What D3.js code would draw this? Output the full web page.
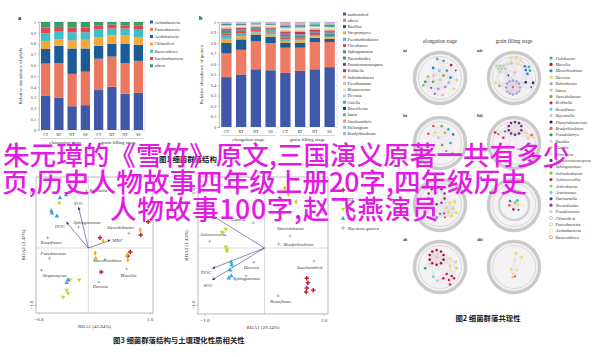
<!DOCTYPE html>
<html><head><meta charset="utf-8">
<script src="https://cdn.jsdelivr.net/npm/d3@7/dist/d3.min.js"></script>
<style>body{margin:0;background:#fff}svg{display:block}</style>
</head><body>
<svg id="c" width="600" height="357"></svg>
<script>
// ---------- DATA ----------
const stageBars = ["CT","RT","NT","SS","CT","RT","NT","SS"];
const stageGroups = ["elongation stage","grain filling stage"];
const yTicks = [0,0.1,0.2,0.3,0.4,0.5,0.6,0.7,0.8,0.9,1];
const yTickLabels = ["0","0.1","0.2","0.3","0.4","0.5","0.6","0.7","0.8","0.9","1"];

const phyla = ["Actinobacteria","Proteobacteria","Acidobacteria","Chloroflexi","Bacteroidetes","Saccharibacteria","others"];
const phylaColors = ["#3f59a8","#ea7760","#1b5b97","#f6a83a","#3cbfc6","#e2474e","#3a9b6b"];
const phylaValues = [
  [0.32,0.30,0.22,0.23,0.37,0.40,0.335,0.345],
  [0.295,0.32,0.30,0.31,0.29,0.28,0.285,0.295],
  [0.135,0.16,0.235,0.215,0.12,0.12,0.18,0.15],
  [0.075,0.06,0.075,0.08,0.08,0.075,0.075,0.07],
  [0.07,0.07,0.075,0.07,0.07,0.065,0.065,0.075],
  [0.055,0.045,0.045,0.045,0.04,0.035,0.03,0.035],
  [0.05,0.045,0.05,0.05,0.03,0.025,0.03,0.03]
];

const genera = ["unidentified","others","Bacillus","Streptomyces","Pseudarthrobacter","Flavobacter","Sphingomonas","Nocardioides","Promicromonospora","Kribbella","Solirubrobacter","Pseudomonas","Blastococcus","Devosia","Gaiella","Roseiflexus","Iamia","Saccharothrix","Haliangium","Bradyrhizobium"];
const generaColors = ["#3f59a8","#ee7b63","#1b5b97","#f6a83a","#3cbfc6","#e2474e","#3a9b6b","#6c7a9c","#7b4fa0","#c0304a","#f2a582","#f3c27e","#f5ebb0","#a6d4ec","#2bb5b5","#1f3f7a","#5db89a","#e89480","#8eb8d8","#b8a0d0"];
const generaValues = [
  [0.475,0.50,0.55,0.54,0.515,0.535,0.55,0.57],
  [0.225,0.235,0.265,0.26,0.24,0.22,0.26,0.24],
  [0.10,0.10,0.065,0.06,0.045,0.045,0.04,0.03],
  [0.04,0.03,0.02,0.02,0.02,0.025,0.015,0.015],
  [0.03,0.025,0.015,0.02,0.015,0.015,0.01,0.01],
  [0.02,0.015,0.01,0.01,0.015,0.015,0.01,0.012],
  [0.015,0.012,0.01,0.01,0.015,0.015,0.012,0.012],
  [0.012,0.01,0.008,0.01,0.015,0.013,0.01,0.01],
  [0.01,0.008,0.006,0.008,0.012,0.012,0.008,0.01],
  [0.01,0.008,0.006,0.008,0.012,0.012,0.01,0.01],
  [0.008,0.008,0.006,0.007,0.012,0.012,0.01,0.01],
  [0.008,0.007,0.005,0.007,0.01,0.01,0.008,0.008],
  [0.008,0.006,0.005,0.006,0.01,0.01,0.008,0.008],
  [0.007,0.006,0.005,0.006,0.01,0.01,0.008,0.008],
  [0.006,0.006,0.005,0.005,0.01,0.009,0.008,0.008],
  [0.006,0.005,0.004,0.005,0.009,0.009,0.007,0.008],
  [0.006,0.005,0.004,0.005,0.009,0.009,0.007,0.008],
  [0.005,0.005,0.004,0.004,0.008,0.008,0.007,0.008],
  [0.005,0.005,0.004,0.004,0.009,0.008,0.007,0.007],
  [0.004,0.004,0.003,0.005,0.009,0.008,0.005,0.008]
];

// co-occurrence network taxa (legend)
const netTaxa = ["Pedobacter","Massilia","Mesorhizobium","Devosia","Rubrobacter","Iamia","Steroidobacter","Kribbella","Roseiflexus","Reyranella","Phenylobacterium","Bradyrhizobium","Pseudolabrys","Bauldia","Gaiella","Nitrospira","Promicromonospora","Sphingomonas","Solirubrobacter","Actinocorallia","Arthrobacter","Arenimonas","Skermanella","Nocardioides","Pseudomonas","Chloroflexi","Proteobacteria","Actinobacteria","Bacteroidetes"];
const netColors = ["#2bb3b1","#b3172f","#2d7fc1","#f2e13c","#a7a3d6","#a9d9b0","#7ea83b","#d8236f","#68cde0","#efb9a0","#23226a","#e2632b","#2f9e52","#d9d3ea","#d2e04d","#cfe6f2","#6a2a7a","#d3204b","#8dc63f","#e01e1e","#a6d05a","#7ec8e3","#3c3c78","#8e3a8e","#cdd0dc","#e98aa2","#98d49a","#efe08a","#e06060"];
const netPhylaStart = 25;
const netTitles = ["elongation stage","grain filling stage"];
const netLabels = ["ai","aii","bi","bii","ci","cii","di","dii"];
// network layouts: [u, v, taxon index, shape]
const netAi = [[-0.13,-0.9,0,"c"],[0.17,-0.82,0,"c"],[0.53,-0.62,1,"c"],[-0.33,-0.48,2,"c"],[-0.03,-0.35,8,"c"],[0.33,-0.35,0,"c"],[0.75,-0.35,1,"v"],[-0.58,-0.07,18,"c"],[-0.3,-0.12,9,"c"],[0.17,-0.12,6,"c"],[0.5,-0.02,2,"c"],[-0.7,0.18,12,"c"],[-0.33,0.18,6,"c"],[0,0.1,5,"c"],[0.42,0.22,21,"c"],[-0.42,0.48,1,"v"],[-0.08,0.52,4,"c"],[0.25,0.43,17,"v"],[0.67,0.52,3,"c"],[-0.25,0.77,16,"v"],[0.13,0.82,9,"c"],[0.8,0.1,14,"c"],[-0.8,0.35,18,"c"]];
const netAii = [[-0.85,-0.58,5,"c"],[-0.68,-0.58,5,"c"],[-0.52,-0.58,5,"c"],[-0.77,-0.44,5,"c"],[-0.61,-0.44,5,"c"],[-0.42,-0.44,5,"c"],[-0.68,-0.3,5,"c"],[-0.15,-0.95,27,"c"],[0.11,-0.98,3,"c"],[0.33,-0.86,27,"c"],[-0.12,-0.71,9,"c"],[0.18,-0.68,27,"c"],[0.52,-0.56,2,"c"],[0.71,-0.53,0,"c"],[0.56,-0.38,2,"c"],[0.76,-0.35,0,"c"],[0.64,-0.2,2,"c"],[-0.27,-0.11,10,"v"],[0.03,-0.26,9,"c"],[-0.88,0.23,3,"c"],[-0.7,0.38,18,"c"],[0.56,0.2,10,"c"],[0.91,0.23,10,"c"],[0.82,0.45,22,"v"],[-0.05,0.12,4,"c"],[0.12,0.17,4,"c"],[0.24,0.27,4,"c"],[0.29,0.45,4,"c"],[0.24,0.64,4,"c"],[0.12,0.74,4,"c"],[-0.05,0.79,4,"c"],[-0.21,0.74,4,"c"],[-0.33,0.64,4,"c"],[-0.38,0.45,4,"c"],[-0.33,0.27,4,"c"],[-0.21,0.17,4,"c"],[-0.05,0.45,17,"v"]];
const netBi = [[-0.32,-0.81,11,"c"],[-0.56,-0.44,11,"c"],[0.08,-0.81,6,"c"],[0.4,-0.65,0,"c"],[-0.24,-0.49,3,"c"],[0.24,-0.49,18,"c"],[0.63,-0.41,2,"c"],[-0.08,-0.25,9,"c"],[-0.6,0.1,11,"c"],[-0.3,0.2,3,"c"],[0.1,0.1,6,"c"],[0.5,0.0,0,"c"],[0.3,0.4,17,"v"],[-0.2,0.6,9,"c"],[0.6,0.5,18,"c"]];
const netBii = [[0.05,-1.0,16,"c"],[0.24,-0.95,16,"c"],[0.35,-0.81,16,"c"],[0.35,-0.61,16,"c"],[0.24,-0.45,16,"c"],[0.05,-0.39,16,"c"],[-0.14,-0.45,16,"c"],[-0.25,-0.61,16,"c"],[-0.25,-0.81,16,"c"],[-0.14,-0.95,16,"c"],[-0.75,-0.41,1,"v"],[-0.51,-0.25,7,"c"],[-0.9,-0.5,17,"c"],[-0.43,-0.54,1,"v"],[0.6,-0.49,3,"c"],[0.84,-0.38,11,"c"],[0.68,-0.22,3,"c"],[0.9,-0.25,27,"c"],[-0.3,0.2,9,"c"],[0.2,0.3,5,"c"]];
const netCi = [[-0.16,-0.83,23,"c"],[0.07,-0.75,23,"c"],[0.22,-0.55,23,"c"],[0.22,-0.31,23,"c"],[0.07,-0.11,23,"c"],[-0.16,-0.03,23,"c"],[-0.39,-0.11,23,"c"],[-0.54,-0.31,23,"c"],[-0.54,-0.55,23,"c"],[-0.39,-0.75,23,"c"],[0.48,-0.11,3,"c"],[0.71,-0.16,14,"c"],[0.32,0.13,3,"c"],[0.63,0.16,14,"c"],[0.4,0.37,3,"c"],[0.79,0.37,14,"c"],[0.56,0.52,3,"c"],[0,0.44,1,"v"],[0.19,0.41,1,"v"],[0.24,0.6,17,"v"],[-0.32,0.25,8,"c"],[-0.16,0.6,0,"c"]];
const netCii = [[-0.19,-0.19,2,"c"],[0.16,-0.22,0,"c"],[-0.22,0.02,11,"c"],[0.21,0,3,"c"],[-0.03,0.21,17,"c"],[0.22,0.24,10,"v"],[0.05,-0.11,18,"c"]];
const netDi = [[-0.16,-0.81,1,"c"],[0.05,-0.74,1,"c"],[0.17,-0.57,1,"c"],[0.17,-0.35,1,"c"],[0.05,-0.18,1,"c"],[-0.16,-0.11,1,"c"],[-0.37,-0.18,1,"c"],[-0.49,-0.35,1,"c"],[-0.49,-0.57,1,"c"],[-0.37,-0.74,1,"c"],[-0.16,-0.46,9,"c"],[0.48,-0.41,3,"c"],[0.76,-0.25,14,"c"],[0.48,-0.05,3,"c"],[0.79,0.06,14,"c"],[0.32,0.33,17,"c"],[0.56,0.43,17,"c"],[0.16,0.54,17,"c"],[0.43,0.62,17,"c"],[0.67,0.54,17,"c"],[0.48,0.83,17,"c"],[-0.32,0.46,8,"c"],[-0.13,0.65,5,"c"],[-0.71,0.06,12,"c"],[-0.48,-0.17,24,"c"]];
const netDii = [[0.1,-0.65,3,"c"],[0.37,-0.46,3,"c"],[0.02,-0.33,27,"c"],[-0.14,0.11,3,"c"],[0.14,0.14,27,"c"],[-0.02,0.33,3,"c"],[-0.06,0.49,9,"c"],[0.05,0.46,1,"v"]];

// RDA
const rdaTreatments = ["CT","RT","NT","SS","Keystone genera"];
const rdaTreatColors = ["#c8232c","#f2b40a","#c6d530","#2fa8d5","#777777"];
const rdaVars = ["SOC","DOC","MBC"];
const rdaLeftArrows = [[-0.16,0.72],[-0.36,0.46],[0.36,0.14]];
const rdaLeftGenera = ["Sphingomonas","Steroidobacter","Roseiflexus","Pseudomonas","Streptomyces","Mesorhizobium","Massilia","Devosia","Kribbella"];
const rdaLeftGeneraXY = [[-0.16,0.37],[0.66,0.26],[-0.66,0.18],[-0.63,-0.18],[-0.76,-0.39],[0.27,-0.2],[0.62,-0.37],[0.17,-0.6],[-0.03,1.0]];
const rdaLeftCT = [[0.97,0.46],[0.85,0.23],[0.19,0.18],[0.68,-0.07],[0.64,-0.14],[0.21,-0.42]];
const rdaLeftRT = [[0.11,-0.09],[0.12,-0.18],[0.24,0.12],[0.84,0.32],[0.63,-0.12],[0.64,-0.21]];
const rdaLeftNT = [[-0.47,0.79],[-0.30,-0.56],[-0.15,-0.56],[-0.35,-0.74],[-0.33,-0.79],[-0.41,-0.86]];
const rdaLeftSS = [[-0.46,0.88],[-0.36,0.93],[-0.60,0.65],[-0.59,0.61],[-0.51,0.56],[-0.33,-0.56],[-0.35,-0.61]];
const rdaRightArrows = [[-0.88,-0.56],[-0.88,-0.36],[-0.85,0.55]];
const rdaRightGenera = ["Actinocorallia","Steroidobacter","Bradyrhizobium","Devosia","Saccharothrix","Sphingomonas","Roseiflexus","Gaiella"];
const rdaRightGeneraXY = [[-0.92,0.12],[0.43,0.21],[0.24,0.07],[-0.18,-0.25],[0.83,-0.23],[-0.31,-0.49],[0.23,-0.84],[-0.19,0.44]];
const rdaRightCT = [[0.71,-0.53],[0.73,-0.61],[0.71,-0.70],[0.82,-0.74],[0.70,-0.77]];
const rdaRightRT = [[0.34,1.05],[0.53,0.81],[0.40,0.95]];
const rdaRightNT = [[-0.71,0.28],[-0.65,0.33],[-0.70,0.26],[-0.65,0.02],[-0.63,-0.02],[-0.63,-0.05]];
const rdaRightSS = [[-0.56,-0.25],[-0.55,-0.30],[-0.58,-0.39],[-0.56,-0.49],[-0.60,-0.53]];

const captions = ["图1 细菌群落结构","图2 细菌群落共现性","图3 细菌群落结构与土壤理化性质相关性"];
const overlayLines = ["朱元璋的《雪竹》原文,三国演义原著一共有多少","页,历史人物故事四年级上册20字,四年级历史","人物故事100字,赵飞燕演员"];

// ---------- DRAW ----------
const svg = d3.select("#c");
const serif = "'Liberation Serif','DejaVu Serif',serif";
const cjk = "'Noto Sans CJK SC','Noto Sans CJK JP',sans-serif";

function stackPanel(cfg){
  const g = svg.append("g");
  const x = d3.scaleBand().domain(d3.range(stageBars.length)).range([cfg.x0,cfg.x1]).paddingInner(0.3).paddingOuter(0.15);
  const y = d3.scaleLinear().domain([0,1]).range([cfg.yb,cfg.yt]);
  const rows = stageBars.map((s,i)=>{const o={};cfg.names.forEach((n,k)=>o[n]=cfg.values[k][i]);return o;});
  const series = d3.stack().keys(cfg.names)(rows);
  g.append("rect").attr("x",cfg.x0).attr("y",cfg.yt).attr("width",cfg.x1-cfg.x0).attr("height",cfg.yb-cfg.yt)
    .attr("fill","none").attr("stroke","#cfcfcf").attr("stroke-width",0.5);
  series.forEach((s,k)=>{
    g.append("g").attr("fill",cfg.colors[k]).selectAll("rect").data(s).join("rect")
      .attr("x",(d,i)=>x(i)).attr("width",x.bandwidth())
      .attr("y",d=>y(Math.min(1,d[1])))
      .attr("height",d=>Math.max(0,y(Math.min(1,d[0]))-y(Math.min(1,d[1]))));
  });
  const ax = g.append("g").attr("transform",`translate(${cfg.x0},0)`)
    .call(d3.axisLeft(y).tickValues(yTicks).tickFormat((d,i)=>yTickLabels[i]).tickSize(1.5).tickPadding(1.5));
  ax.select(".domain").attr("stroke","#999").attr("stroke-width",0.5);
  ax.selectAll(".tick line").attr("stroke","#999").attr("stroke-width",0.5);
  ax.selectAll("text").attr("font-size",4.2).attr("font-family",serif).attr("fill","#444");
  const ar = g.append("g").attr("transform",`translate(${cfg.x1},0)`)
    .call(d3.axisLeft(y).tickValues(yTicks).tickFormat("").tickSize(1.5));
  ar.select(".domain").remove();
  ar.selectAll(".tick line").attr("stroke","#bbb").attr("stroke-width",0.5);
  g.selectAll(".xl").data(stageBars).join("text")
    .attr("x",(d,i)=>x(i)+x.bandwidth()/2).attr("y",cfg.yb+6).attr("text-anchor","middle")
    .attr("font-size",4.3).attr("font-family",serif).attr("fill","#333").text(d=>d);
  stageGroups.forEach((gn,j)=>{
    const a=x(j*4), b=x(j*4+3)+x.bandwidth();
    g.append("line").attr("x1",a).attr("x2",b).attr("y1",cfg.yb+8.5).attr("y2",cfg.yb+8.5).attr("stroke","#999").attr("stroke-width",0.4);
    g.append("text").attr("x",(a+b)/2).attr("y",cfg.yb+14).attr("text-anchor","middle")
      .attr("font-size",5).attr("font-family",serif).attr("fill","#333").text(gn);
  });
  g.append("text").attr("transform",`translate(${cfg.titleX},${(cfg.yt+cfg.yb)/2}) rotate(-90)`)
    .attr("text-anchor","middle").attr("font-size",5).attr("font-family",serif).attr("fill","#333").text(cfg.title);
  g.append("text").attr("x",cfg.labelX).attr("y",20).attr("font-size",6).attr("font-weight","bold").attr("font-family",serif).text(cfg.label);
  const lg = g.append("g");
  cfg.names.forEach((n,k)=>{
    const yy = cfg.ly0 + k*cfg.lstep;
    lg.append("rect").attr("x",cfg.lx).attr("y",yy-1.5).attr("width",3).attr("height",3).attr("fill",cfg.colors[k]);
    lg.append("text").attr("x",cfg.lx+4.5).attr("y",yy+1.5).attr("font-size",4.3).attr("font-family",serif).attr("fill","#333").text(n);
  });
}

stackPanel({x0:39,x1:145,yt:22,yb:130,names:phyla,colors:phylaColors,values:phylaValues,title:"Relative abundance of phyla",titleX:22,label:"a",labelX:18,lx:150,ly0:22,lstep:7.3});
stackPanel({x0:219,x1:337,yt:22,yb:127,names:genera,colors:generaColors,values:generaValues,title:"Relative abundance of genera",titleX:203,label:"b",labelX:199,lx:343,ly0:14,lstep:6.3});

// ---------- networks ----------
const netLayouts = [netAi,netAii,netBi,netBii,netCi,netCii,netDi,netDii];
const netCols = [440,514];
const netRows = [78,143,205,267];
netTitles.forEach((t,j)=>{
  svg.append("text").attr("x",netCols[j]).attr("y",43).attr("text-anchor","middle")
    .attr("font-size",5.2).attr("font-family",serif).attr("fill","#333").text(t);
});
netLayouts.forEach((nodes,p)=>{
  const cx = netCols[p%2], cy = netRows[Math.floor(p/2)];
  const g = svg.append("g");
  const sx = d3.scaleLinear().domain([-1,1]).range([cx-21,cx+21]);
  const sy = d3.scaleLinear().domain([-1,1]).range([cy-21,cy+21]);
  g.append("circle").attr("cx",cx).attr("cy",cy).attr("r",23.5).attr("fill","#f4f2f5");
  g.append("circle").attr("cx",cx).attr("cy",cy).attr("r",25.5).attr("fill","none").attr("stroke","#cacaca").attr("stroke-width",3.5);
  g.append("circle").attr("cx",cx).attr("cy",cy).attr("r",21.5).attr("fill","none").attr("stroke","#d9d9d9").attr("stroke-width",1);
  if(p===5){
    g.append("circle").attr("cx",cx).attr("cy",cy).attr("r",15).attr("fill","none").attr("stroke","#d2d2d2").attr("stroke-width",2.2);
  }
  const edges=[];
  nodes.forEach((a,i)=>nodes.forEach((b,k)=>{ if(k>i && Math.hypot(a[0]-b[0],a[1]-b[1])<0.75) edges.push([a,b]); }));
  g.selectAll("line").data(edges).join("line")
    .attr("x1",d=>sx(d[0][0])).attr("y1",d=>sy(d[0][1])).attr("x2",d=>sx(d[1][0])).attr("y2",d=>sy(d[1][1]))
    .attr("stroke","#d8d0de").attr("stroke-width",0.3);
  g.selectAll("circle.n").data(nodes.filter(d=>d[3]==="c")).join("circle").attr("class","n")
    .attr("cx",d=>sx(d[0])).attr("cy",d=>sy(d[1])).attr("r",1.3).attr("fill",d=>netColors[d[2]]);
  g.selectAll("path.v").data(nodes.filter(d=>d[3]==="v")).join("path").attr("class","v")
    .attr("d",d=>`M${sx(d[0])-1.2},${sy(d[1])-0.9}L${sx(d[0])+1.2},${sy(d[1])-0.9}L${sx(d[0])},${sy(d[1])+1.1}Z`)
    .attr("fill",d=>netColors[d[2]]);
  g.append("text").attr("x",cx-37).attr("y",cy-26).attr("font-size",5).attr("font-weight","bold").attr("font-family",serif).attr("fill","#333").text(netLabels[p]);
});
// network legend
netTaxa.forEach((n,k)=>{
  const yy = 58 + k*6.4;
  const open = k>=netPhylaStart;
  svg.append("circle").attr("cx",551).attr("cy",yy).attr("r",1.6)
    .attr("fill",open?"none":netColors[k]).attr("stroke",open?netColors[k]:"none").attr("stroke-width",0.6);
  svg.append("text").attr("x",555.5).attr("y",yy+1.5).attr("font-size",4.3).attr("font-family",serif)
    .attr("font-style",open?"normal":"italic").attr("fill","#333").text(n);
});

// ---------- RDA ----------
const defs = svg.append("defs");
defs.append("marker").attr("id","ah").attr("viewBox","0 0 4 4").attr("refX",4).attr("refY",2)
  .attr("markerWidth",3).attr("markerHeight",3).attr("markerUnits","userSpaceOnUse").attr("orient","auto")
  .append("path").attr("d","M0,0L4,2L0,4Z").attr("fill","#3b3b78");

const symT = [d3.symbolCross,d3.symbolDiamond,d3.symbolTriangle,d3.symbolTriangle];
function sampleMarks(g,x,y,pts,t){
  g.selectAll(null).data(pts).join("path")
    .attr("transform",d=>`translate(${x(d[0])},${y(d[1])})${t===2?" rotate(180)":""}`)
    .attr("d",d3.symbol().type(symT[t]).size(t===0?11:9))
    .attr("fill",rdaTreatColors[t]);
}
function rdaPanel(cfg){
  const g = svg.append("g");
  const x = d3.scaleLinear().domain(cfg.xd).range(cfg.xr);
  const y = d3.scaleLinear().domain([-1,1]).range([305,191]);
  const [bx0,bx1,by0,by1] = cfg.box;
  g.append("rect").attr("x",bx0).attr("y",by0).attr("width",bx1-bx0).attr("height",by1-by0)
    .attr("fill","none").attr("stroke","#8a8a8a").attr("stroke-width",0.6);
  g.append("line").attr("x1",x(0)).attr("x2",x(0)).attr("y1",by0).attr("y2",by1).attr("stroke","#b5b5b5").attr("stroke-width",0.5);
  g.append("line").attr("x1",bx0).attr("x2",bx1).attr("y1",y(0)).attr("y2",y(0)).attr("stroke","#b5b5b5").attr("stroke-width",0.5);
  cfg.xd.forEach(v=>{
    g.append("line").attr("x1",x(v)).attr("x2",x(v)).attr("y1",by1).attr("y2",by1+1.5).attr("stroke","#888").attr("stroke-width",0.5);
    g.append("text").attr("x",x(v)).attr("y",by1+8).attr("text-anchor","middle").attr("font-size",5).attr("font-family",serif).attr("fill","#333").text(d3.format(".1f")(v).replace("-","\u2212"));
  });
  [-1,1].forEach(v=>{
    g.append("line").attr("x1",bx0-1.5).attr("x2",bx0).attr("y1",y(v)).attr("y2",y(v)).attr("stroke","#888").attr("stroke-width",0.5);
    g.append("text").attr("transform",`translate(${bx0-3},${y(v)}) rotate(-90)`).attr("text-anchor","middle")
      .attr("font-size",5).attr("font-family",serif).attr("fill","#333").text(d3.format(".1f")(v).replace("-","\u2212"));
  });
  g.append("text").attr("x",(bx0+bx1)/2).attr("y",by1+15).attr("text-anchor","middle").attr("font-size",5).attr("font-family",serif).attr("fill","#333").text(cfg.xlab);
  g.append("text").attr("transform",`translate(${cfg.ylabX},${(by0+by1)/2}) rotate(-90)`).attr("text-anchor","middle")
    .attr("font-size",5).attr("font-family",serif).attr("fill","#333").text(cfg.ylab);
  cfg.arrows.forEach((a,i)=>{
    g.append("line").attr("x1",x(0)).attr("y1",y(0)).attr("x2",x(a[0])).attr("y2",y(a[1]))
      .attr("stroke","#3b3b78").attr("stroke-width",0.6).attr("marker-end","url(#ah)");
    g.append("text").attr("x",x(a[0])+cfg.arrowLab[i][0]).attr("y",y(a[1])+cfg.arrowLab[i][1]).attr("text-anchor","middle")
      .attr("font-size",4.8).attr("font-family",serif).attr("fill","#3b3b78").text(rdaVars[i]);
  });
  cfg.gxy.forEach((p,i)=>{
    const px=x(p[0]), py=y(p[1]);
    g.append("path").attr("d",`M${px-1.5},${py}H${px+1.5}M${px},${py-1.5}V${py+1.5}`).attr("stroke","#777").attr("stroke-width",0.5);
    g.append("text").attr("x",px+cfg.gl[i][0]).attr("y",py+cfg.gl[i][1]).attr("font-size",4.6).attr("font-style","italic")
      .attr("font-family",serif).attr("fill","#333").text(cfg.gnames[i]);
  });
  cfg.samples.forEach((pts,t)=>sampleMarks(g,x,y,pts,t));
}
rdaPanel({xd:[-0.8,1.0],xr:[39,150],box:[36,153,177,313],xlab:"RDA1 (43.84%)",ylab:"RDA2 (2.47%)",ylabX:25,
  arrows:rdaLeftArrows,arrowLab:[[0,-2],[-6,6],[7,2]],gxy:rdaLeftGeneraXY,gnames:rdaLeftGenera,
  gl:[[-5,-3],[-22,-4],[-7,6],[-9,-3],[1,7],[-12,3],[-6,8],[-6,6],[3,1]],
  samples:[rdaLeftCT,rdaLeftRT,rdaLeftNT,rdaLeftSS]});
rdaPanel({xd:[-1.0,1.0],xr:[205,324],box:[198,328,177,314],xlab:"RDA1 (29.34%)",ylab:"RDA2 (1.43%)",ylabX:188,
  arrows:rdaRightArrows,arrowLab:[[-4,7],[-6,5],[-4,-2]],gxy:rdaRightGeneraXY,gnames:rdaRightGenera,
  gl:[[-10,-5],[-13,-6],[5,2],[-10,7],[-17,8],[-13,4],[-8,7],[-22,-2]],
  samples:[rdaRightCT,rdaRightRT,rdaRightNT,rdaRightSS]});
rdaTreatments.forEach((n,k)=>{
  const yy = 190 + k*9.5;
  const lg = svg.append("g");
  if(k<4){
    lg.append("path").attr("transform",`translate(343,${yy})${k===2?" rotate(180)":""}`)
      .attr("d",d3.symbol().type(symT[k]).size(k===0?11:9)).attr("fill",rdaTreatColors[k]);
  } else {
    lg.append("path").attr("d",`M341,${yy}H345M343,${yy-2}V${yy+2}`).attr("stroke","#777").attr("stroke-width",0.5);
  }
  lg.append("text").attr("x",348).attr("y",yy+1.6).attr("font-size",4.6).attr("font-family",serif)
    .attr("font-style",k===4?"italic":"normal").attr("fill","#333").text(n);
});

// ---------- captions ----------
[[159,162,"start"],[488,321,"middle"],[113,343,"start"]].forEach((c,i)=>{
  svg.append("text").attr("x",c[0]).attr("y",c[1]).attr("text-anchor",c[2]).attr("font-size",7.4)
    .attr("font-weight","bold").attr("font-family",cjk).attr("fill","#222").text(captions[i]);
});

// ---------- overlay ----------
[[3,165,26.6,0],[2,192,26.6,0],[110,219,26.6,0.7]].forEach((p,i)=>{
  svg.append("text").attr("x",p[0]).attr("y",p[1]).attr("font-size",p[2]).attr("letter-spacing",p[3]).attr("font-family",cjk)
    .attr("font-weight",500).attr("fill","#e41ae4").text(overlayLines[i]);
});
</script>
</body></html>
